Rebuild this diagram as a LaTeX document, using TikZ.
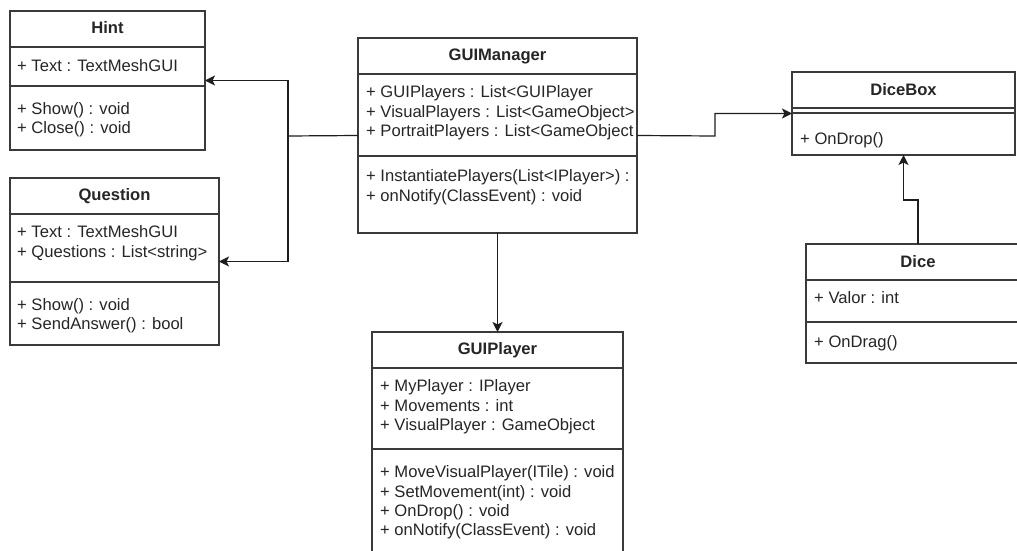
\documentclass[tikz,border=0pt]{standalone}
\usepackage{fontspec}
\setmainfont{Liberation Sans}
\usetikzlibrary{arrows.meta,calc}
\definecolor{edge}{HTML}{3A3A3A}
\definecolor{ink}{HTML}{1E1E1E}
\definecolor{txt}{HTML}{262626}
\tikzset{
  classbox/.style={draw=edge, line width=1.3pt, fill=white, inner sep=0pt, outer sep=0pt},
  divider/.style={draw=edge, line width=1.3pt},
  member/.style={anchor=west, inner sep=0pt, text=txt, text height=12pt, text depth=3.5pt,
    font=\fontsize{16.6}{19}\selectfont},
  classname/.style={inner sep=0pt, text=txt, text height=12pt, text depth=3.5pt,
    font=\fontsize{16.6}{19}\selectfont\bfseries},
  conn/.style={draw=ink, line width=1.2pt},
  arr/.style={conn, -{Stealth[length=10pt, width=10pt, inset=2.5pt]}},
}
\begin{document}
\begin{tikzpicture}[x=1pt, y=-1pt]
\useasboundingbox (0,0) rectangle (1017,551);
\fill[white] (0,0) rectangle (1017,551);

% ---- Hint
\node[classbox, minimum width=195pt, minimum height=139pt] (hint) at (107.5,80.5) {};
\draw[divider] (10,47) -- (205,47);
\draw[divider] (10,86) -- (205,86);
\node[classname] (hintT) at (107.5,29.5) {Hint};
\node[member] (hintA1) at (17,67) {+ Text : TextMeshGUI};
\node[member] (hintM1) at (17,110) {+ Show() : void};
\node[member] (hintM2) at (17,129) {+ Close() : void};

% ---- Question
\node[classbox, minimum width=209pt, minimum height=167pt] (quest) at (114.5,261.5) {};
\draw[divider] (10,214) -- (219,214);
\draw[divider] (10,282) -- (219,282);
\node[classname] (questT) at (114.5,196.5) {Question};
\node[member] (questA1) at (17,233) {+ Text : TextMeshGUI};
\node[member] (questA2) at (17,253) {+ Questions : List<string>};
\node[member] (questM1) at (17,306) {+ Show() : void};
\node[member] (questM2) at (17,325) {+ SendAnswer() : bool};

% ---- GUIManager
\node[classbox, minimum width=279pt, minimum height=195pt] (gm) at (497.5,135.5) {};
\draw[divider] (358,74) -- (637,74);
\draw[divider] (358,156) -- (637,156);
\node[classname] (gmT) at (497.5,56.5) {GUIManager};
\node[member] (gmA1) at (366,93) {+ GUIPlayers : List<GUIPlayer};
\node[member] (gmA2) at (366,113) {+ VisualPlayers : List<GameObject>};
\node[member] (gmA3) at (366,132) {+ PortraitPlayers : List<GameObject};
\node[member] (gmM1) at (366,177) {+ InstantiatePlayers(List<IPlayer>) :};
\node[member] (gmM2) at (366,197) {+ onNotify(ClassEvent) : void};

% ---- GUIPlayer (runs past the lower edge)
\node[classbox, minimum width=251pt, minimum height=240pt] (gp) at (497.5,452) {};
\draw[divider] (372,368) -- (623,368);
\draw[divider] (372,449) -- (623,449);
\node[classname] (gpT) at (497.5,350.5) {GUIPlayer};
\node[member] (gpA1) at (380,387) {+ MyPlayer : IPlayer};
\node[member] (gpA2) at (380,407) {+ Movements : int};
\node[member] (gpA3) at (380,426) {+ VisualPlayer : GameObject};
\node[member] (gpM1) at (380,473) {+ MoveVisualPlayer(ITile) : void};
\node[member] (gpM2) at (380,493) {+ SetMovement(int) : void};
\node[member] (gpM3) at (380,512) {+ OnDrop() : void};
\node[member] (gpM4) at (380,531) {+ onNotify(ClassEvent) : void};

% ---- DiceBox
\node[classbox, minimum width=223pt, minimum height=83pt] (db) at (903.5,113.5) {};
\draw[divider] (792,108) -- (1015,108);
\draw[divider] (792,113) -- (1015,113);
\node[classname] (dbT) at (903.5,91) {DiceBox};
\node[member] (dbM1) at (800,140) {+ OnDrop()};

% ---- Dice (runs past the right edge)
\node[classbox, minimum width=224pt, minimum height=119pt] (dice) at (918,303.5) {};
\draw[divider] (806,280) -- (1030,280);
\draw[divider] (806,322) -- (1030,322);
\node[classname] (diceT) at (918,263.5) {Dice};
\node[member] (diceA1) at (814,299) {+ Valor : int};
\node[member] (diceM1) at (814,343) {+ OnDrag()};

% ---- connectors
\coordinate (jl) at (288,136);
\coordinate (jr) at (715,136);
\coordinate (kb) at (0,200);
\draw[conn] (gm.west) -- (jl);
\draw[arr] (jl) |- (hint.east);
\draw[arr] (jl) |- (quest.east);
\draw[arr] (gm.east) -- (jr) |- (db.west);
\draw[arr] (gm.south) -- (gp.north);
\draw[arr] (dice.north) -- (dice.north |- kb) -| (db.south);
\end{tikzpicture}
\end{document}
